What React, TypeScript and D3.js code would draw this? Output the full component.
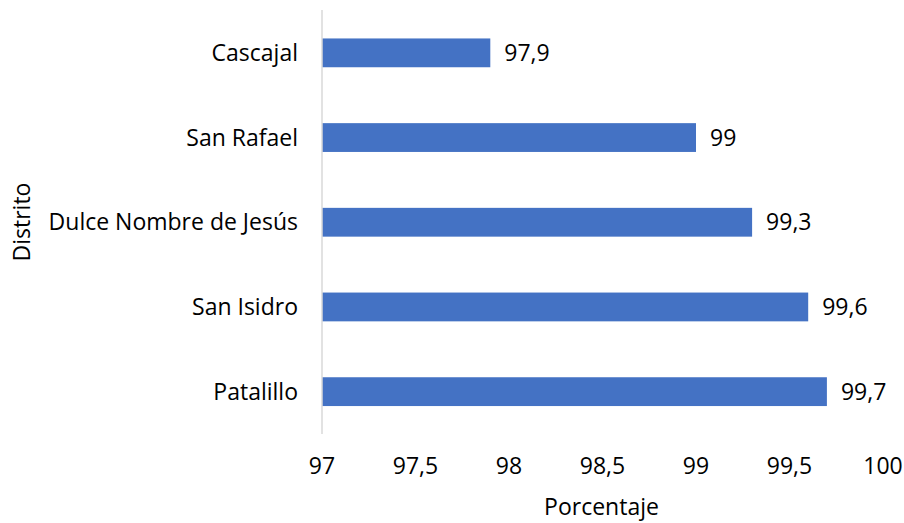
import React from "react";
import * as d3 from "d3";

const categories = ["Cascajal", "San Rafael", "Dulce Nombre de Jesús", "San Isidro", "Patalillo"];
const values = [97.9, 99, 99.3, 99.6, 99.7];
const xTicks = [97, 97.5, 98, 98.5, 99, 99.5, 100];
const xTitle = "Porcentaje";
const yTitle = "Distrito";

const W = 904;
const H = 523;
const FONT = "'Open Sans', sans-serif";
const FS = 23;

export default function App() {
  const x = d3.scaleLinear().domain([97, 100]).range([322, 883]);
  const y = d3.scaleBand<string>().domain(categories).range([10.5, 434]).paddingInner(0.66).paddingOuter(0.33);
  const fmt = (v: number) => String(v).replace(".", ",");
  return (
    <svg width={W} height={H} style={{ position: "absolute", left: 0, top: 0, background: "#fff" }}>
      <g fontFamily={FONT} fill="#000">
        {categories.map((c, i) => (
          <g key={c}>
            <rect x={x(97)} y={y(c)!} width={x(values[i]) - x(97)} height={y.bandwidth()} fill="#4472C4" />
            <text x={x(values[i]) + 14} y={y(c)! + y.bandwidth() / 2} dy="0.35em" fontSize={FS}>
              {fmt(values[i])}
            </text>
            <text x={298} y={y(c)! + y.bandwidth() / 2} dy="0.35em" fontSize={FS} textAnchor="end">
              {c}
            </text>
          </g>
        ))}
        <line x1={x(97)} x2={x(97)} y1={10} y2={434} stroke="#D9D9D9" strokeWidth={1.5} />
        {xTicks.map((t) => (
          <text key={t} x={x(t)} y={466} dy="0.35em" fontSize={FS} textAnchor="middle">
            {fmt(t)}
          </text>
        ))}
        <text x={(x(97) + x(100)) / 2 - 1} y={507} dy="0.35em" fontSize={FS} textAnchor="middle">
          {xTitle}
        </text>
        <text transform={`translate(22,222) rotate(-90)`} dy="0.35em" fontSize={FS} textAnchor="middle">
          {yTitle}
        </text>
      </g>
    </svg>
  );
}
